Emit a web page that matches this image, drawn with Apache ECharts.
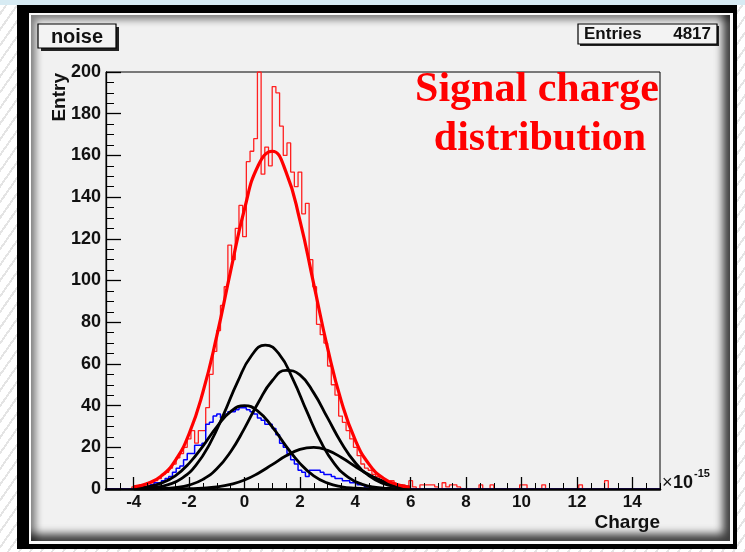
<!DOCTYPE html>
<html><head><meta charset="utf-8">
<script src="https://cdn.jsdelivr.net/npm/echarts@6/dist/echarts.min.js"></script>
<style>
html,body{margin:0;padding:0;width:745px;height:552px;overflow:hidden;background:#fff;}
#bg{position:absolute;left:0;top:0;width:745px;height:552px;background:repeating-linear-gradient(125deg,#ffffff 0px,#ffffff 7px,#e4e4e4 7px,#e4e4e4 9px);}
#topstrip{position:absolute;left:0;top:0;width:745px;height:5px;background:#d7ebf3;}
#outer{position:absolute;left:17px;top:5px;width:720px;height:544px;background:#000;}
#white{position:absolute;left:29px;top:13px;width:704px;height:531px;background:#fafafa;}
#pad{position:absolute;left:31px;top:15px;width:699px;height:526px;background:#f1f1f1;box-shadow:inset -7px -7px 8px rgba(0,0,0,0.75), inset 5px 5px 7px rgba(0,0,0,0.45);}
#chart{position:absolute;left:0;top:0;width:745px;height:552px;}
</style>
</head><body>
<div id="bg"></div><div id="topstrip"></div><div id="outer"></div><div id="white"></div><div id="pad"></div>
<div id="chart"></div>
<script>
// ---- data ----
const binStart = -5;
const binEnd = 15;
const redCounts = [
 0,0,0,0,0,0,0,
 1,1,2,2,3,3,4,5,7,8,
 10,12,15,17,20,24,28,22,28,28,
 39,55,66,76,88,97,117,110,125,136,
 121,157,162,168,200,151,164,155,193,190,
 174,160,166,152,145,152,132,137,110,97,
 79,74,70,59,50,45,35,32,28,24,
 20,16,12,10,9,7,6,4,4,3,
 4,2,1,2,1,4,1,0,2,2,
 2,2,1,0,3,1,2,2,1,0,
 0,0,0,0,2,0,0,2,0,0,
 0,0,0,0,0,2,2,0,0,0,
 0,2,0,0,0,0,0,0,0,0,
 0,2,0,0,0,0,0,0,4,0,
 0,0,0,0,0,0,0,0,0,0,0,0,0
];
const blueCounts = [
 0,0,0,0,0,0,0,0,0,0,
 1,1,2,3,3,4,5,6,8,10,
 11,14,17,17,21,21,22,31,32,35,
 36,34,36,37,37,38,39,39,38,37,
 36,34,33,31,31,29,26,22,20,17,
 14,12,9,8,6,9,9,9,8,7,
 7,6,5,5,4,4,3,3,2,2,
 1,1,0,0,0,0,0,0,0,0,
 0,0,0,0,0,0,0,0,0,0,
 0,0,0,0,0,0,0,0,0,0,
 0,0,0,0,0,0,0,0,0,0,
 0,0,0,0,0,0,0,0,0,0,
 0,0,0,0,0,0,0,0,0,0,
 0,0,0,0,0,0,0,0,0,0,
 0,0,0,0,0,0,0,0,0,0
];
const fitX   = [-4,-3.5,-3,-2.5,-2,-1.5,-1,-0.5,0,0.5,1,1.5,2,2.5,3,3.5,4,4.5,5,5.5,6];
const redFit = [1.0,2.6,6.3,13.6,26.5,46.5,73.4,104.6,134.3,155.3,162,152,128.8,98.3,67.6,41.9,23.4,11.8,5.3,2.2,0.8];
const gaus1  = [0.35,1.07,2.8,6.3,12.3,20.6,29.8,37.1,40,37.1,29.8,20.6,12.3,6.3,2.8,1.07,0.35,0.1,0.03,0,0];
const gaus2X = [-3.75,-3.25,-2.75,-2.25,-1.75,-1.25,-0.75,-0.25,0.25,0.75,1.25,1.75,2.25,2.75,3.25,3.75,4.25,4.75,5.25,5.75];
const gaus2  = [0.21,0.72,2.1,5.2,11.5,21.8,35.9,51.4,63.9,69,64.7,52.6,37.2,22.8,12.1,5.6,2.25,0.79,0.24,0.06];
const gaus3  = [0.02,0.06,0.22,0.69,1.9,4.6,9.7,17.9,29.1,41.5,51.9,56.9,54.7,46.1,34.1,22.1,12.6,6.3,2.7,1.05,0.35];
const gaus4  = [0,0,0.01,0.04,0.13,0.37,0.96,2.2,4.3,7.6,11.7,15.9,19,20,18.5,15.1,10.8,6.8,3.8,1.9,0.8];
const xTickLabels = [-4,-2,0,2,4,6,8,10,12,14];
const yMax = 200;
const entries = 4817;

// ---- build ----
const binWidth = (binEnd - binStart) / redCounts.length;
function histData(counts){
  const d = [];
  for (let k = 0; k < counts.length; k++) d.push([binStart + k*binWidth, counts[k]]);
  d.push([binEnd, counts[counts.length-1]]);
  return d;
}
function curveData(xs, vals){ return xs.map((x,i)=>[x, vals[i]]); }

const SANS = "'Liberation Sans', Arial, sans-serif";
const SERIF = "'Liberation Serif', 'Times New Roman', serif";

const chart = echarts.init(document.getElementById('chart'), null, {renderer:'canvas'});
const blackCurve = (xs, vals) => ({
  type:'line', data: curveData(xs, vals), smooth:true, showSymbol:false, symbol:'none',
  lineStyle:{color:'#000', width:2.8}, z:4, animation:false
});
chart.setOption({
  animation:false,
  backgroundColor:'transparent',
  grid:{left:106, right:85, top:72, bottom:63, show:true, borderColor:'#000', borderWidth:1, backgroundColor:'transparent'},
  xAxis:[{
    type:'value', min:binStart, max:binEnd, position:'bottom', z:10,
    axisLine:{onZero:false, lineStyle:{color:'#000', width:2.5}},
    axisTick:{inside:true, length:12, customValues:xTickLabels, lineStyle:{color:'#000', width:1.3}},
    axisLabel:{customValues:xTickLabels, color:'#111', fontWeight:'bold', fontSize:17, fontFamily:SANS, margin:5},
    splitLine:{show:false}
  },{
    type:'value', min:binStart, max:binEnd, interval:0.5, position:'bottom', z:10,
    axisLine:{show:false, onZero:false},
    axisTick:{inside:true, length:6, lineStyle:{color:'#000', width:1}},
    axisLabel:{show:false}, splitLine:{show:false}
  }],
  yAxis:{
    type:'value', min:0, max:yMax, interval:20, z:10, position:'left',
    axisLine:{show:true, onZero:false, lineStyle:{color:'#000', width:1.3}},
    axisTick:{show:true, inside:true, length:15, lineStyle:{color:'#000', width:1.3}},
    minorTick:{show:true, splitNumber:4, length:8, lineStyle:{color:'#000', width:1}},
    axisLabel:{color:'#111', fontWeight:'bold', fontSize:18, fontFamily:SANS, margin:5},
    splitLine:{show:false}
  },
  series:[
    {type:'line', data:histData(redCounts), step:'end', showSymbol:false, symbol:'none',
     lineStyle:{color:'#ff2020', width:1.3}, z:2},
    {type:'line', data:histData(blueCounts), step:'end', showSymbol:false, symbol:'none',
     lineStyle:{color:'#0000ff', width:1.5}, z:3},
    blackCurve(fitX, gaus1), blackCurve(gaus2X, gaus2), blackCurve(fitX, gaus3), blackCurve(fitX, gaus4),
    {type:'line', data:curveData(fitX, redFit), smooth:true, showSymbol:false, symbol:'none',
     lineStyle:{color:'#ff0000', width:3.2}, z:5}
  ],
  graphic:[
    {type:'rect', shape:{x:41, y:27, width:78, height:24}, style:{fill:'#222'}, z:20},
    {type:'rect', shape:{x:38, y:24, width:78, height:24}, style:{fill:'#f3f3f3', stroke:'#000', lineWidth:1.2}, z:21},
    {type:'text', x:77, y:37, style:{text:'noise', font:"bold 20px "+SANS, fill:'#111', align:'center', verticalAlign:'middle'}, z:22},
    {type:'rect', shape:{x:580, y:26, width:139, height:20}, style:{fill:'#222'}, z:20},
    {type:'rect', shape:{x:578, y:24, width:139, height:20}, style:{fill:'#f3f3f3', stroke:'#000', lineWidth:1.2}, z:21},
    {type:'text', x:584, y:34.5, style:{text:'Entries', font:"bold 17px "+SANS, fill:'#111', align:'left', verticalAlign:'middle'}, z:22},
    {type:'text', x:711, y:34.5, style:{text:String(entries), font:"bold 17px "+SANS, fill:'#111', align:'right', verticalAlign:'middle'}, z:22},
    {type:'text', x:537, y:90, style:{text:'Signal charge', font:"bold 42px "+SERIF, fill:'#ff0000', align:'center', verticalAlign:'middle'}, z:22},
    {type:'text', x:540, y:139, style:{text:'distribution', font:"bold 42px "+SERIF, fill:'#ff0000', align:'center', verticalAlign:'middle'}, z:22},
    {type:'text', x:60, y:73, rotation:Math.PI/2, style:{text:'Entry', font:"bold 19px "+SANS, fill:'#111', align:'right', verticalAlign:'middle'}, z:22},
    {type:'text', x:660, y:523, style:{text:'Charge', font:"bold 19px "+SANS, fill:'#111', align:'right', verticalAlign:'middle'}, z:22},
    {type:'text', x:662, y:483, style:{text:'×', font:"18px "+SANS, fill:'#111', align:'left', verticalAlign:'middle'}, z:22},
    {type:'text', x:673, y:483, style:{text:'10', font:"bold 18px "+SANS, fill:'#111', align:'left', verticalAlign:'middle'}, z:22},
    {type:'text', x:694, y:474, style:{text:'-15', font:"bold 11px "+SANS, fill:'#111', align:'left', verticalAlign:'middle'}, z:22}
  ]
});
</script>
</body></html>
